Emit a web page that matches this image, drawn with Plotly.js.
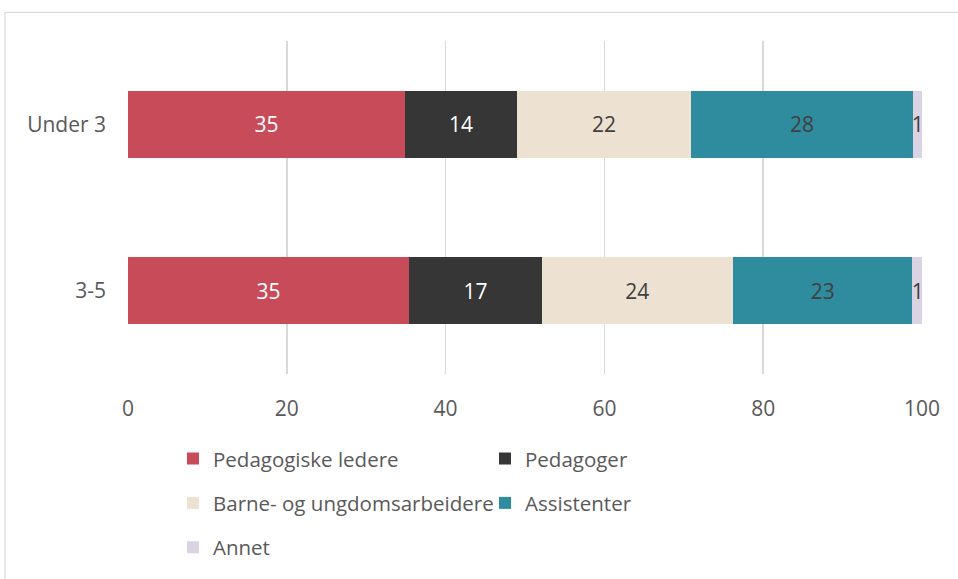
<!DOCTYPE html>
<html>
<head>
<meta charset="utf-8">
<script src="https://cdn.plot.ly/plotly-3.0.1.min.js"></script>
<style>html,body{margin:0;padding:0;background:#fff;}#chart{width:958px;height:579px;}</style>
</head>
<body>
<div id="chart"></div>
<script>
// Data
const categories = ['Under 3', '3-5'];
const seriesNames = ['Pedagogiske ledere', 'Pedagoger', 'Barne- og ungdomsarbeidere', 'Assistenter', 'Annet'];
const pedagogiskeLedere = [34.9, 35.4];
const pedagoger = [14.1, 16.7];
const barneOgUngdom = [21.9, 24.1];
const assistenter = [28.0, 22.6];
const annet = [1.1, 1.3];
const xTicks = [0, 20, 40, 60, 80, 100];

const seriesValues = [pedagogiskeLedere, pedagoger, barneOgUngdom, assistenter, annet];
const colors = ['#C84B5A', '#363636', '#EDE1D2', '#2E8C9E', '#D9D3E3'];
const textColors = ['#ffffff', '#ffffff', '#404040', '#404040', '#404040'];
const legendIds = ['legend', 'legend', 'legend2', 'legend2', 'legend3'];
const FONT = 'Open Sans, sans-serif';
const FS = 21;
const LFS = 20.5;

const traces = seriesNames.map((name, i) => ({
  type: 'bar',
  orientation: 'h',
  name: name,
  x: seriesValues[i],
  y: categories,
  marker: {color: colors[i], line: {width: 0}},
  text: seriesValues[i].map(v => Math.round(v).toString()),
  texttemplate: '%{text}',
  textposition: 'inside',
  insidetextanchor: 'middle',
  constraintext: 'none',
  textfont: {family: FONT, size: FS, color: textColors[i]},
  legend: legendIds[i],
  hoverinfo: 'x+name'
}));

const W = 794, H = 338, L = 128, T = 41;
const px = x => (x - L) / W;
const py = y => (T + H - y) / H;

const legendBase = {
  orientation: 'h',
  xanchor: 'left',
  yanchor: 'middle',
  font: {family: FONT, size: LFS, color: '#595959'},
  entrywidth: 267,
  entrywidthmode: 'pixels',
  bgcolor: 'rgba(0,0,0,0)',
  traceorder: 'normal'
};

const layout = {
  width: 958,
  height: 579,
  margin: {l: L, r: 958 - L - W, t: T, b: 579 - T - H},
  paper_bgcolor: '#ffffff',
  plot_bgcolor: '#ffffff',
  barmode: 'stack',
  bargap: 0.6,
  showlegend: true,
  uniformtext: {minsize: FS, mode: 'show'},
  font: {family: FONT, size: FS, color: '#595959'},
  xaxis: {
    range: [0, 100],
    tickvals: xTicks,
    ticktext: xTicks.map(String),
    showgrid: true,
    gridcolor: '#D9D9D9',
    gridwidth: 1.5,
    zeroline: false,
    showline: false,
    ticks: '',
    ticklabelstandoff: 20,
    tickfont: {family: FONT, size: FS, color: '#595959'},
    fixedrange: true
  },
  yaxis: {
    type: 'category',
    autorange: 'reversed',
    showgrid: false,
    zeroline: false,
    showline: false,
    ticks: '',
    ticklabelstandoff: 21,
    tickfont: {family: FONT, size: FS, color: '#595959'},
    fixedrange: true
  },
  legend: Object.assign({}, legendBase, {x: px(173), y: py(465)}),
  legend2: Object.assign({}, legendBase, {x: px(173), y: py(510)}),
  legend3: Object.assign({}, legendBase, {x: px(173), y: py(555)}),
  shapes: [{
    type: 'rect', xref: 'paper', yref: 'paper',
    x0: px(5), x1: px(962), y0: py(12), y1: py(590),
    line: {color: '#D9D9D9', width: 1.2}, fillcolor: 'rgba(0,0,0,0)', layer: 'below'
  }]
};

Plotly.newPlot('chart', traces, layout, {displayModeBar: false, staticPlot: true});
</script>
</body>
</html>
